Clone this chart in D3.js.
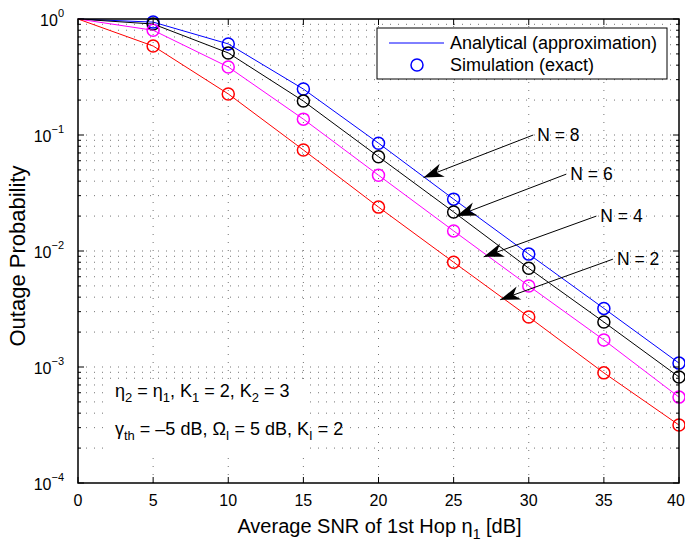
<!DOCTYPE html>
<html lang="en">
<head>
<meta charset="utf-8">
<title>Outage Probability vs SNR</title>
<script src="https://d3js.org/d3.v7.min.js"></script>
<style>
  body { margin: 0; background: #fff; }
  svg { font-family: 'Liberation Sans', Arial, sans-serif; }
  .grid line { stroke: #000; stroke-opacity: 0.55; stroke-dasharray: 1,7; }
</style>
</head>
<body>
<div id="chart"></div>
<script>
// SNR values (dB)
var snr = [0, 5, 10, 15, 20, 25, 30, 35, 40];

// outage probability per N
var outN8 = [1, 0.94, 0.61, 0.249, 0.085, 0.028, 0.0094, 0.0032, 0.00108];
var outN6 = [1, 0.905, 0.51, 0.196, 0.065, 0.0217, 0.0071, 0.00244, 0.00082];
var outN4 = [1, 0.80, 0.386, 0.137, 0.045, 0.0149, 0.0050, 0.00171, 0.00055];
var outN2 = [1, 0.585, 0.226, 0.0743, 0.0239, 0.0080, 0.0027, 0.00089, 0.000316];

var seriesNames = ["N = 8", "N = 6", "N = 4", "N = 2"];
var seriesColors = ["#0000ff", "#000000", "#ff00ff", "#ff0000"];
// arrow annotations: label anchor (x dB, prob) and arrow tip (x dB, prob)
var arrowText = [[30.3, 0.1], [32.5, 0.046], [34.5, 0.02], [35.6, 0.0085]];
var arrowTip = [[23, 0.043], [25.2, 0.020], [27, 0.0089], [28.1, 0.0038]];

var W = 685, H = 548;
var margin = {top: 19, right: 6, bottom: 65, left: 78};

var svg = d3.select("#chart").append("svg")
    .attr("width", W).attr("height", H);

var x = d3.scaleLinear().domain([0, 40]).range([margin.left, W - margin.right]);
var y = d3.scaleLog().domain([1e-4, 1]).range([H - margin.bottom, margin.top]);

var x0 = x.range()[0], x1 = x.range()[1], y0 = y.range()[0], y1 = y.range()[1];

// minor log tick values
var logTicks = [];
for (var e = -4; e < 0; e++) {
  for (var m = 1; m < 10; m++) logTicks.push(m * Math.pow(10, e));
}
logTicks.push(1);
var decades = [1e-4, 1e-3, 1e-2, 1e-1, 1];
var xTicks = d3.range(0, 41, 5);

// grid
var grid = svg.append("g").attr("class", "grid");
grid.selectAll(".gx").data(xTicks.slice(1, -1)).enter().append("line")
    .attr("x1", function (d) { return x(d); }).attr("x2", function (d) { return x(d); })
    .attr("y1", y0).attr("y2", y1);
grid.selectAll(".gy").data(logTicks.slice(1, -1)).enter().append("line")
    .attr("x1", x0).attr("x2", x1)
    .attr("y1", function (d) { return y(d); }).attr("y2", function (d) { return y(d); });

// lines
var line = d3.line()
    .x(function (d, i) { return x(snr[i]); })
    .y(function (d) { return y(d); });

var allSeries = [outN8, outN6, outN4, outN2];

// text box in the lower left (covers grid)
svg.append("rect")
    .attr("x", 110).attr("y", 382).attr("width", 194).attr("height", 72)
    .attr("fill", "#fff");

allSeries.forEach(function (s, k) {
  svg.append("path").datum(s)
      .attr("fill", "none")
      .attr("stroke", seriesColors[k])
      .attr("stroke-width", 1)
      .attr("d", line);
  svg.selectAll(null).data(s.slice(1)).enter().append("circle")
      .attr("cx", function (d, i) { return x(snr[i + 1]); })
      .attr("cy", function (d) { return y(d); })
      .attr("r", 6)
      .attr("fill", "none")
      .attr("stroke", seriesColors[k])
      .attr("stroke-width", 1.5);
});

// axes box
svg.append("rect")
    .attr("x", x0).attr("y", y1).attr("width", x1 - x0).attr("height", y0 - y1)
    .attr("fill", "none").attr("stroke", "#000").attr("stroke-width", 1.5);

// ticks on all four sides
var tk = svg.append("g").attr("stroke", "#000").attr("stroke-width", 1);
xTicks.forEach(function (t) {
  tk.append("line").attr("x1", x(t)).attr("x2", x(t)).attr("y1", y0).attr("y2", y0 - 6);
  tk.append("line").attr("x1", x(t)).attr("x2", x(t)).attr("y1", y1).attr("y2", y1 + 6);
});
logTicks.forEach(function (t) {
  var len = decades.indexOf(t) >= 0 ? 6 : 3;
  tk.append("line").attr("x1", x0).attr("x2", x0 + len).attr("y1", y(t)).attr("y2", y(t));
  tk.append("line").attr("x1", x1).attr("x2", x1 - len).attr("y1", y(t)).attr("y2", y(t));
});

// x tick labels
svg.selectAll(".xl").data(xTicks).enter().append("text")
    .attr("x", function (d) { return d === 40 ? x(d) - 3 : x(d); })
    .attr("y", y0 + 23)
    .attr("text-anchor", "middle")
    .attr("font-size", 16)
    .text(function (d) { return d; });

// y tick labels 10^n
decades.forEach(function (d) {
  var ex = Math.round(Math.log10(d));
  var t = svg.append("text")
      .attr("x", x0 - 14).attr("y", y(d) + 7)
      .attr("text-anchor", "end")
      .attr("font-size", 16);
  t.append("tspan").text("10");
  t.append("tspan").attr("dy", -9).attr("font-size", 11)
      .text(ex === 0 ? "0" : "\u2212" + (-ex));
});

// axis titles
svg.append("text")
    .attr("transform", "translate(25,256) rotate(-90)")
    .attr("text-anchor", "middle")
    .attr("font-size", 22)
    .text("Outage Probability");

var xt = svg.append("text")
    .attr("x", (x0 + x1) / 2 + 1).attr("y", 533)
    .attr("text-anchor", "middle")
    .attr("font-size", 20);
xt.append("tspan").text("Average SNR of 1st Hop \u03b7");
xt.append("tspan").attr("dy", 6).attr("font-size", 14).text("1");
xt.append("tspan").attr("dy", -6).text(" [dB]");

// parameter text
function sub(t, s) {
  t.append("tspan").attr("dy", 5).attr("font-size", 13).text(s);
}
function main(t, s) {
  t.append("tspan").attr("dy", -5).text(s);
}
var p1 = svg.append("text").attr("x", 115).attr("y", 397).attr("font-size", 18);
p1.append("tspan").text("\u03b7");
sub(p1, "2"); main(p1, " = \u03b7");
sub(p1, "1"); main(p1, ", K");
sub(p1, "1"); main(p1, " = 2, K");
sub(p1, "2"); main(p1, " = 3");

var p2 = svg.append("text").attr("x", 115).attr("y", 435).attr("font-size", 18);
p2.append("tspan").text("\u03b3");
sub(p2, "th"); main(p2, " = \u20135 dB, \u03a9");
sub(p2, "I"); main(p2, " = 5 dB, K");
sub(p2, "I"); main(p2, " = 2");

// arrows with labels
seriesNames.forEach(function (name, k) {
  var tx = x(arrowText[k][0]), ty = y(arrowText[k][1]);
  var hx = x(arrowTip[k][0]), hy = y(arrowTip[k][1]);
  svg.append("text")
      .attr("x", tx + 4).attr("y", ty + 6)
      .attr("font-size", 17.5)
      .text(name);
  svg.append("line")
      .attr("x1", tx).attr("y1", ty).attr("x2", hx).attr("y2", hy)
      .attr("stroke", "#000").attr("stroke-width", 1);
  var ang = Math.atan2(ty - hy, tx - hx);
  var L = 20, Wd = 7, back = 14;
  var ca = Math.cos(ang), sa = Math.sin(ang);
  var pts = [
    [hx, hy],
    [hx + L * ca - Wd * sa, hy + L * sa + Wd * ca],
    [hx + back * ca, hy + back * sa],
    [hx + L * ca + Wd * sa, hy + L * sa - Wd * ca]
  ];
  svg.append("polygon")
      .attr("points", pts.map(function (p) { return p.join(","); }).join(" "))
      .attr("fill", "#000");
});

// legend
var lg = svg.append("g");
lg.append("rect")
    .attr("x", 377).attr("y", 28).attr("width", 290).attr("height", 51)
    .attr("fill", "#fff").attr("stroke", "#000").attr("stroke-width", 1);
lg.append("line")
    .attr("x1", 389).attr("x2", 444).attr("y1", 43).attr("y2", 43)
    .attr("stroke", "#0000ff").attr("stroke-width", 1);
lg.append("text").attr("x", 450).attr("y", 49).attr("font-size", 18)
    .text("Analytical (approximation)");
lg.append("circle").attr("cx", 417).attr("cy", 65).attr("r", 6)
    .attr("fill", "none").attr("stroke", "#0000ff").attr("stroke-width", 1.5);
lg.append("text").attr("x", 450).attr("y", 71).attr("font-size", 18)
    .text("Simulation (exact)");
</script>
</body>
</html>
